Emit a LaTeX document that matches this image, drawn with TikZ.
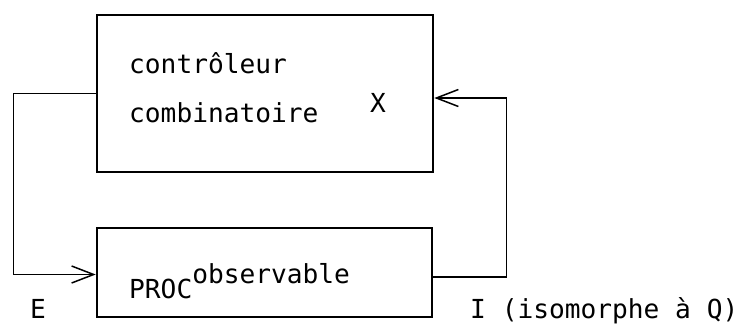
\documentclass[tikz,border=0pt]{standalone}
\usepackage{fontspec}
\setmonofont{DejaVu Sans Mono}
\usetikzlibrary{arrows.meta}
\begin{document}
\begin{tikzpicture}[x=1pt,y=-1pt,
  bloc/.style={draw,line width=2.6pt,inner sep=0pt},
  fil/.style={line width=1.5pt},
  fleche/.style={fil,-{Straight Barb[length=22pt,width=17pt,line width=1.5pt]}},
  etiq/.style={inner sep=0pt,anchor=base west,font=\ttfamily\fontsize{26.2}{30}\selectfont}]
\useasboundingbox (0,0) rectangle (738,329);
% les deux blocs
\node[bloc,minimum width=336pt,minimum height=157pt] (ctl) at (265,93.5) {};
\node[bloc,minimum width=335pt,minimum height=89pt] (proc) at (264.5,272.5) {};
% textes
\node[etiq] (ctla) at (129,74) {contrôleur};
\node[etiq] (ctlb) at (129,122) {combinatoire};
\node[etiq] (lx) at (370,112) {X};
\node[etiq] (lproc) at (129,298) {PROC\raisebox{15pt}{observable}};
\node[etiq] (le) at (30,318) {E};
\node[etiq] (li) at (470,318) {I (isomorphe à Q)};
% connexions
\draw[fleche] (ctl.west) -- ++(-82,0) |- ([yshift=-2pt]proc.west);
\draw[fleche] ([yshift=-4.5pt]proc.east) -- ++(73,0) |- ([yshift=-4.5pt]ctl.east);
\end{tikzpicture}
\end{document}
